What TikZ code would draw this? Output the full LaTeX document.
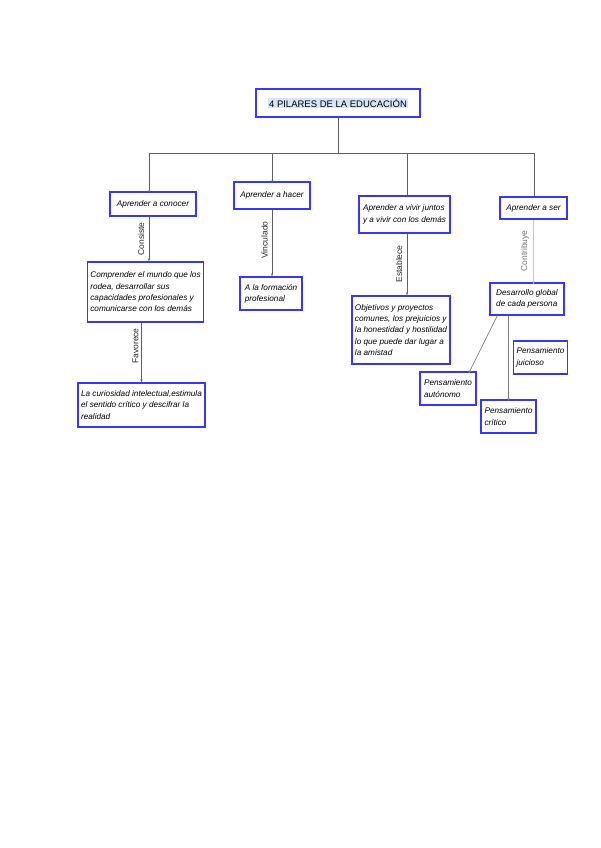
\documentclass[tikz,border=0pt]{standalone}
\usepackage{fontspec}
\setmainfont{Liberation Sans}
\usetikzlibrary{arrows.meta}
\definecolor{boxblue}{RGB}{55,55,245}
\definecolor{hl}{RGB}{214,228,246}
\definecolor{linegray}{RGB}{95,95,95}
\tikzset{
  box/.style={draw=boxblue, line width=1.5pt, fill=white, inner sep=3pt,
    font=\fontsize{8.2}{11.3}\selectfont\itshape, anchor=center},
  boxl/.style={box, align=left},
  boxc/.style={box, align=center},
  conn/.style={draw=linegray, line width=0.7pt},
  arr/.style={conn, -{Stealth[length=3pt,width=2.2pt]}},
  lbl/.style={font=\fontsize{8.5}{10}\selectfont, text=black!85, rotate=90, inner sep=0pt}
}
\begin{document}
\begin{tikzpicture}[x=1pt,y=-1pt]
\useasboundingbox[fill=white] (0,0) rectangle (600,848);

% title
\node[box, font=\fontsize{9.5}{11}\selectfont, minimum width=164pt, minimum height=28pt, inner sep=1pt]
  (title) at (338,103) {\setlength{\fboxsep}{1pt}\colorbox{hl}{4 PILARES DE LA EDUCACIÓN}};

% first level
\node[boxc, minimum width=86pt, minimum height=24pt] (b1) at (153,204) {Aprender a conocer};
\node[boxc, minimum width=76pt, minimum height=27pt] (h1) at (272,195.5) {Aprender a hacer};
\node[boxl, minimum width=91pt, minimum height=37pt] (v1) at (404.5,214.5) {Aprender a vivir juntos\\y a vivir con los demás};
\node[boxc, minimum width=67pt, minimum height=22pt] (s1) at (533.5,208) {Aprender a ser};

% second level
\node[boxl, minimum width=115pt, minimum height=60pt] (b2) at (145.5,292) {Comprender el mundo que los\\rodea, desarrollar sus\\capacidades profesionales y\\comunicarse con los demás};
\node[boxl, minimum width=123pt, minimum height=44pt] (b3) at (141.5,405) {La curiosidad intelectual,estimula\\el sentido crítico y descifrar la\\realidad};
\node[boxl, minimum width=62pt, minimum height=33pt] (h2) at (271,293.5) {A la formación\\profesional};
\node[boxl, minimum width=96pt, minimum height=68pt] (v2) at (401,330) {Objetivos y proyectos\\comunes, los prejuicios y\\la honestidad y hostilidad\\lo que puede dar lugar a\\la amistad};
\node[boxl, minimum width=74pt, minimum height=32pt] (s2) at (527,299) {Desarrollo global\\de cada persona};
\node[boxl, minimum width=56pt, minimum height=33pt] (pa) at (448,388.5) {Pensamiento\\autónomo};
\node[boxl, minimum width=55pt, minimum height=33pt] (pc) at (508.5,416.5) {Pensamiento\\crítico};
\node[boxl, minimum width=53pt, minimum height=33pt] (pj) at (540.5,357.5) {Pensamiento\\juicioso};

% bus
\coordinate (bus) at (338,153);
\coordinate (busL) at (149,153);
\coordinate (busH) at (272,153);
\coordinate (busV) at (407,153);
\coordinate (busR) at (534,153);
\draw[conn] (title.south) -- (bus);
\draw[conn] (busL) -- (busR);
\draw[arr] (busL) -- ([yshift=-2pt]busL |- b1.north);
\draw[arr] (busH) -- ([yshift=-2pt]busH |- h1.north);
\draw[conn] (busV) -- (busV |- v1.north);
\draw[conn] (busR) -- (busR |- s1.north);

% vertical connectors with labels
\draw[arr] (busL |- b1.south) -- (busL |- b2.north);
\node[lbl] (lconsiste) at (141,239) {Consiste};
\draw[arr] (b3.north |- b2.south) -- (b3.north);
\node[lbl] (lfavorece) at (135.5,346) {Favorece};
\draw[arr] (h1.south) -- (h1.south |- h2.north);
\node[lbl] (lvinculado) at (264.5,240) {Vinculado};
\draw[arr] (busV |- v1.south) -- (busV |- v2.north);
\node[lbl] (lestablece) at (399,264) {Establece};
\draw[arr, draw=linegray!35] (s1.south) -- ([yshift=-2pt]s1.south |- s2.north);
\node[lbl, text=black!55] (lcontribuye) at (525,251) {Contribuye};

% from Desarrollo global
\draw[arr, draw=linegray!80] ([xshift=8pt]s2.south west) -- ([xshift=-8pt,yshift=-2pt]pa.north east);
\draw[arr, draw=linegray!80] (s2.south -| pc.north) -- ([yshift=-2pt]pc.north);
\end{tikzpicture}
\end{document}
